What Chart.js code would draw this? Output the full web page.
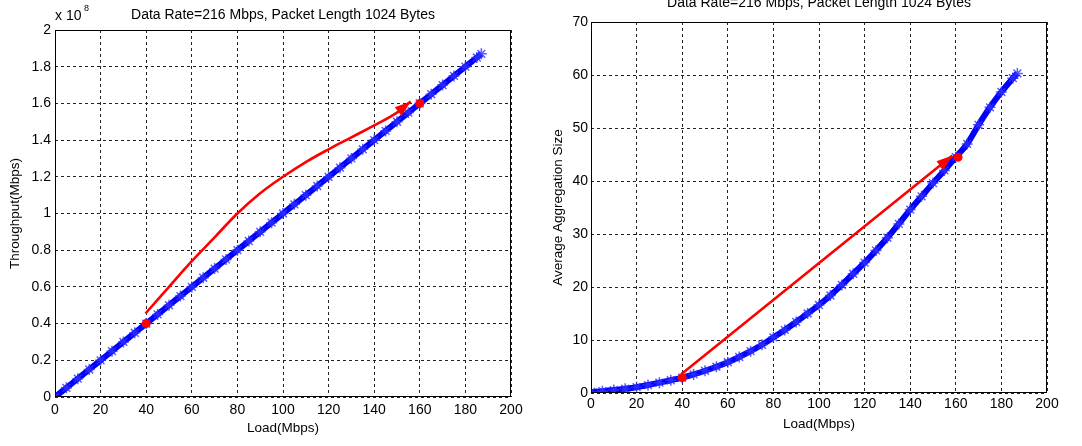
<!DOCTYPE html>
<html>
<head>
<meta charset="utf-8">
<script src="https://cdn.jsdelivr.net/npm/chart.js@4.4.1/dist/chart.umd.min.js"></script>
<style>
  html, body { margin: 0; padding: 0; background: #fff; overflow: hidden; }
  body { width: 1082px; height: 446px; position: relative; }
  #throughputChart { position: absolute; left: 0; top: 0; }
  #aggregationChart { position: absolute; left: 540px; top: -11px; }
</style>
</head>
<body>
<canvas id="throughputChart" width="540" height="446"></canvas>
<canvas id="aggregationChart" width="542" height="457"></canvas>
<script>
const plotTitle = "Data Rate=216 Mbps, Packet Length 1024 Bytes";

// load axis (Mbps)
const loadPoints = [0, 5, 10, 15, 20, 25, 30, 35, 40, 45, 50, 55, 60, 65, 70, 75, 80, 85, 90, 95,
  100, 105, 110, 115, 120, 125, 130, 135, 140, 145, 150, 155, 160, 165, 170, 175, 180, 185, 187];

// throughput, in units of 1e8
const throughputBlue = [0, 0.05, 0.10, 0.15, 0.20, 0.25, 0.30, 0.35, 0.40, 0.45, 0.50, 0.55, 0.60, 0.65,
  0.70, 0.75, 0.80, 0.85, 0.90, 0.95, 1.00, 1.05, 1.10, 1.15, 1.20, 1.25, 1.30, 1.35, 1.40, 1.45,
  1.50, 1.55, 1.60, 1.65, 1.70, 1.75, 1.80, 1.85, 1.87];

const aggregationBlue = [0.2, 0.35, 0.55, 0.8, 1.1, 1.5, 1.95, 2.4, 2.9, 3.5, 4.2, 4.95, 5.8, 6.8,
  7.9, 9.1, 10.5, 11.9, 13.4, 15.0, 16.6, 18.4, 20.4, 22.5, 24.6, 26.9, 29.3, 31.9, 34.6, 37.1,
  39.6, 42.0, 44.5, 47.0, 50.6, 53.9, 56.8, 59.4, 60.3];

// red arrows
const throughputArrowX = [39.7, 50, 60, 70, 80, 90, 100, 110, 120, 130, 140, 150, 156];
const throughputArrowY = [0.455, 0.6, 0.74, 0.87, 1.0, 1.11, 1.2, 1.28, 1.35, 1.415, 1.48, 1.55, 1.61];
const aggregationArrowX = [39.7, 158.5];
const aggregationArrowY = [3.6, 44.8];

// red dots
const throughputDotsX = [40, 160];
const throughputDotsY = [0.4, 1.6];
const aggregationDotsX = [40, 161];
const aggregationDotsY = [2.9, 44.5];

const zip = (xs, ys) => xs.map((x, i) => ({ x: x, y: ys[i] }));

Chart.defaults.font.family = "'Liberation Sans', Arial, Helvetica, sans-serif";
Chart.defaults.font.size = 14;
Chart.defaults.color = "#000";

const blue = "#0000ff",
  red = "#ff0000";

const boxPlugin = {
  id: "boxPlugin",
  afterDraw(c) {
    const { ctx, chartArea } = c;
    ctx.save();
    ctx.strokeStyle = "#000";
    ctx.lineWidth = 1;
    ctx.strokeRect(
      Math.round(chartArea.left) + 0.5,
      Math.round(chartArea.top) + 0.5,
      Math.round(chartArea.right - chartArea.left) - 1,
      Math.round(chartArea.bottom - chartArea.top) - 1
    );
    ctx.restore();
  },
};

const arrowHeads = {
  id: "arrowHeads",
  afterDatasetsDraw(c) {
    const { ctx } = c;
    c.data.datasets.forEach((ds, i) => {
      if (!ds.arrow) return;
      const pts = c.getDatasetMeta(i).data;
      const a = pts[pts.length - 2],
        b = pts[pts.length - 1];
      const ang = Math.atan2(b.y - a.y, b.x - a.x);
      ctx.save();
      ctx.translate(b.x, b.y);
      ctx.rotate(ang);
      ctx.beginPath();
      ctx.moveTo(0, 0);
      ctx.lineTo(-16, -5.5);
      ctx.lineTo(-16, 5.5);
      ctx.closePath();
      ctx.fillStyle = ds.borderColor;
      ctx.fill();
      ctx.restore();
    });
  },
};

const exponentLabel = {
  id: "exponentLabel",
  afterDraw(c) {
    const { ctx, chartArea } = c;
    ctx.save();
    ctx.fillStyle = "#000";
    ctx.textBaseline = "middle";
    ctx.textAlign = "left";
    ctx.font = "14px 'Liberation Sans', Arial, sans-serif";
    ctx.fillText("x 10", chartArea.left, chartArea.top - 14);
    ctx.font = "9px 'Liberation Sans', Arial, sans-serif";
    ctx.fillText("8", chartArea.left + 29, chartArea.top - 21);
    ctx.restore();
  },
};

function makeChart(el, cfg) {
  return new Chart(document.getElementById(el), {
    type: "line",
    data: {
      datasets: [
        {
          data: zip(cfg.dotsX, cfg.dotsY),
          showLine: false,
          pointRadius: 4.5,
          pointBackgroundColor: red,
          pointBorderColor: red,
          pointBorderWidth: 0,
        },
        {
          data: zip(cfg.arrowX, cfg.arrowY),
          arrow: true,
          borderColor: red,
          borderWidth: 2.6,
          pointRadius: 0,
          tension: 0.4,
        },
        {
          data: zip(loadPoints, cfg.blue),
          borderColor: blue,
          borderWidth: 6,
          tension: 0.3,
          pointStyle: "star",
          pointRadius: 5.5,
          pointBorderWidth: 1.5,
          pointBorderColor: "rgba(50,50,255,0.8)",
        },
      ],
    },
    options: {
      responsive: false,
      animation: false,
      layout: { padding: { right: cfg.padRight } },
      scales: {
        x: {
          type: "linear",
          min: 0,
          max: 200,
          afterFit: (s) => {
            s.height = cfg.xHeight;
          },
          ticks: { stepSize: 20, padding: cfg.xTickPad, maxRotation: 0 },
          border: { display: false, dash: [3, 3] },
          grid: { color: "#222", drawTicks: false },
          title: {
            display: true,
            text: "Load(Mbps)",
            font: { size: 13.5 },
            padding: { top: 0, bottom: cfg.xTitlePad },
          },
        },
        y: {
          min: 0,
          max: cfg.yMax,
          afterFit: (s) => {
            s.width = cfg.yWidth;
          },
          ticks: {
            stepSize: cfg.yStep,
            padding: cfg.yTickPad,
            callback: (v) => String(Number(v.toFixed(1))),
          },
          border: { display: false, dash: [3, 3] },
          grid: { color: "#222", drawTicks: false },
          title: {
            display: true,
            text: cfg.yTitle,
            font: { size: 13.5 },
            padding: { top: cfg.yTitlePad, bottom: 0 },
          },
        },
      },
      plugins: {
        legend: { display: false },
        tooltip: { enabled: false },
        title: {
          display: true,
          text: plotTitle,
          fullSize: false,
          font: { size: 14, weight: "normal" },
          padding: { top: cfg.titleTop, bottom: cfg.titleBottom },
        },
      },
    },
    plugins: cfg.plugins,
  });
}

makeChart("throughputChart", {
  blue: throughputBlue,
  arrowX: throughputArrowX,
  arrowY: throughputArrowY,
  dotsX: throughputDotsX,
  dotsY: throughputDotsY,
  yMax: 2,
  yStep: 0.2,
  yTitle: "Throughput(Mbps)",
  padRight: 29,
  xHeight: 49,
  yWidth: 55,
  xTickPad: 5,
  yTickPad: 4,
  xTitlePad: 10,
  yTitlePad: 7.5,
  titleTop: 6.6,
  titleBottom: 6.6,
  plugins: [boxPlugin, arrowHeads, exponentLabel],
});

makeChart("aggregationChart", {
  blue: aggregationBlue,
  arrowX: aggregationArrowX,
  arrowY: aggregationArrowY,
  dotsX: aggregationDotsX,
  dotsY: aggregationDotsY,
  yMax: 70,
  yStep: 10,
  yTitle: "Average Aggregation Size",
  padRight: 35,
  xHeight: 53,
  yWidth: 51,
  xTickPad: 3,
  yTickPad: 3,
  xTitlePad: 14,
  yTitlePad: 10.5,
  titleTop: 6.1,
  titleBottom: 10.1,
  plugins: [boxPlugin, arrowHeads],
});
</script>
</body>
</html>
